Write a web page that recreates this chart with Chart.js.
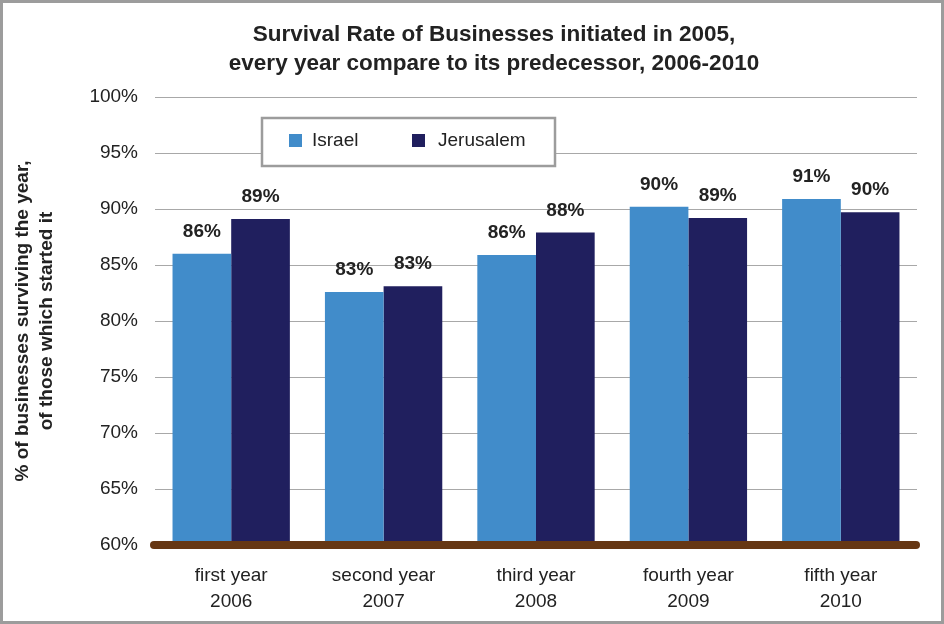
<!DOCTYPE html>
<html>
<head>
<meta charset="utf-8">
<script src="https://cdn.jsdelivr.net/npm/chart.js@4/dist/chart.umd.min.js"></script>
<style>
  html, body { margin: 0; padding: 0; background: #fff; }
  #wrap { width: 944px; height: 624px; position: relative; }
</style>
</head>
<body>
<div id="wrap"><canvas id="chart" width="944" height="624"></canvas></div>
<script>
// --- data ---
const titleLines = ['Survival Rate of Businesses initiated in 2005,', 'every year compare to its predecessor, 2006-2010'];
const categories = [['first year', '2006'], ['second year', '2007'], ['third year', '2008'], ['fourth year', '2009'], ['fifth year', '2010']];
const israel = [86.0, 82.6, 85.9, 90.2, 90.9];
const jerusalem = [89.1, 83.1, 87.9, 89.2, 89.7];
const israelLabels = ['86%', '83%', '86%', '90%', '91%'];
const jerusalemLabels = ['89%', '83%', '88%', '89%', '90%'];
const yTicks = [60, 65, 70, 75, 80, 85, 90, 95, 100];

const FONT = '"Liberation Sans", Arial, Helvetica, sans-serif';
const BLUE = '#418cca';
const NAVY = '#201f5e';
const BROWN = '#663714';

// frame round the whole picture
const framePlugin = {
  id: 'frame',
  afterDraw(chart) {
    const ctx = chart.ctx;
    ctx.save();
    ctx.strokeStyle = '#9c9c9c';
    ctx.lineWidth = 3;
    ctx.strokeRect(1.5, 1.5, chart.width - 3, chart.height - 3);
    ctx.restore();
  }
};

// two-line title, centred a bit right of the canvas middle like the original
const titlePlugin = {
  id: 'offsetTitle',
  afterDraw(chart) {
    const ctx = chart.ctx;
    ctx.save();
    ctx.font = 'bold 22.5px ' + FONT;
    ctx.fillStyle = '#222';
    ctx.textAlign = 'center';
    ctx.textBaseline = 'alphabetic';
    ctx.fillText(titleLines[0], 494, 41);
    ctx.fillText(titleLines[1], 494, 70);
    ctx.restore();
  }
};

// thick brown base line at 60%
const baseLinePlugin = {
  id: 'baseLine',
  afterDatasetsDraw(chart) {
    const ctx = chart.ctx, x = chart.scales.x, y = chart.scales.y;
    const py = y.getPixelForValue(60);
    ctx.save();
    ctx.strokeStyle = BROWN;
    ctx.lineWidth = 8;
    ctx.lineCap = 'round';
    ctx.beginPath();
    ctx.moveTo(x.left - 1, py);
    ctx.lineTo(x.right - 1, py);
    ctx.stroke();
    ctx.restore();
  }
};

// value labels above bars
const valueLabelPlugin = {
  id: 'valueLabels',
  afterDatasetsDraw(chart) {
    const ctx = chart.ctx;
    ctx.save();
    ctx.font = 'bold 19px ' + FONT;
    ctx.fillStyle = '#222';
    ctx.textAlign = 'center';
    ctx.textBaseline = 'alphabetic';
    chart.data.datasets.forEach((ds, di) => {
      chart.getDatasetMeta(di).data.forEach((bar, i) => {
        ctx.fillText(ds.valueLabels[i], bar.x, bar.y - 17);
      });
    });
    ctx.restore();
  }
};

// boxed legend sitting inside the plot
const boxLegendPlugin = {
  id: 'boxLegend',
  afterDatasetsDraw(chart) {
    const ctx = chart.ctx, a = chart.chartArea;
    const left = a.left + 107, top = a.top + 21, w = 293, h = 48;
    ctx.save();
    ctx.fillStyle = '#fff';
    ctx.fillRect(left, top, w, h);
    ctx.strokeStyle = '#9c9c9c';
    ctx.lineWidth = 2.5;
    ctx.strokeRect(left, top, w, h);
    ctx.font = '19px ' + FONT;
    ctx.textBaseline = 'middle';
    ctx.textAlign = 'left';
    const items = [[27, 50], [150, 176]];
    chart.data.datasets.forEach((ds, i) => {
      ctx.fillStyle = ds.backgroundColor;
      ctx.fillRect(left + items[i][0], top + 16, 13, 13);
      ctx.fillStyle = '#222';
      ctx.fillText(ds.label, left + items[i][1], top + 23);
    });
    ctx.restore();
  }
};

new Chart(document.getElementById('chart'), {
  type: 'bar',
  data: {
    labels: categories,
    datasets: [
      { label: 'Israel', data: israel, valueLabels: israelLabels, backgroundColor: BLUE },
      { label: 'Jerusalem', data: jerusalem, valueLabels: jerusalemLabels, backgroundColor: NAVY }
    ]
  },
  options: {
    responsive: false,
    animation: false,
    devicePixelRatio: 1,
    layout: { padding: { top: 97, left: 8, right: 27, bottom: 4 } },
    categoryPercentage: 0.77,
    barPercentage: 1.0,
    plugins: {
      legend: { display: false },
      tooltip: { enabled: false },
      title: { display: false }
    },
    scales: {
      x: {
        grid: { display: false },
        border: { display: false },
        afterFit(scale) { scale.height = 75; },
        ticks: {
          color: '#222',
          font: { family: FONT, size: 19, lineHeight: 1.37 },
          padding: 10,
          maxRotation: 0
        }
      },
      y: {
        min: 60,
        max: 100,
        afterBuildTicks(scale) { scale.ticks = yTicks.map(v => ({ value: v })); },
        afterFit(scale) { scale.width = 147; scale.paddingTop = 0; },
        grid: { color: '#a8a8a8', lineWidth: 1, drawTicks: false },
        border: { display: false },
        ticks: {
          color: '#222',
          font: { family: FONT, size: 19 },
          padding: 17,
          callback: v => v + '%'
        },
        title: {
          display: true,
          text: ['% of businesses surviving the year,', 'of those which started it'],
          color: '#222',
          font: { family: FONT, size: 19, weight: 'bold', lineHeight: 1.3 },
          padding: { top: 2, bottom: 0 }
        }
      }
    }
  },
  plugins: [baseLinePlugin, valueLabelPlugin, boxLegendPlugin, titlePlugin, framePlugin]
});
</script>
</body>
</html>
